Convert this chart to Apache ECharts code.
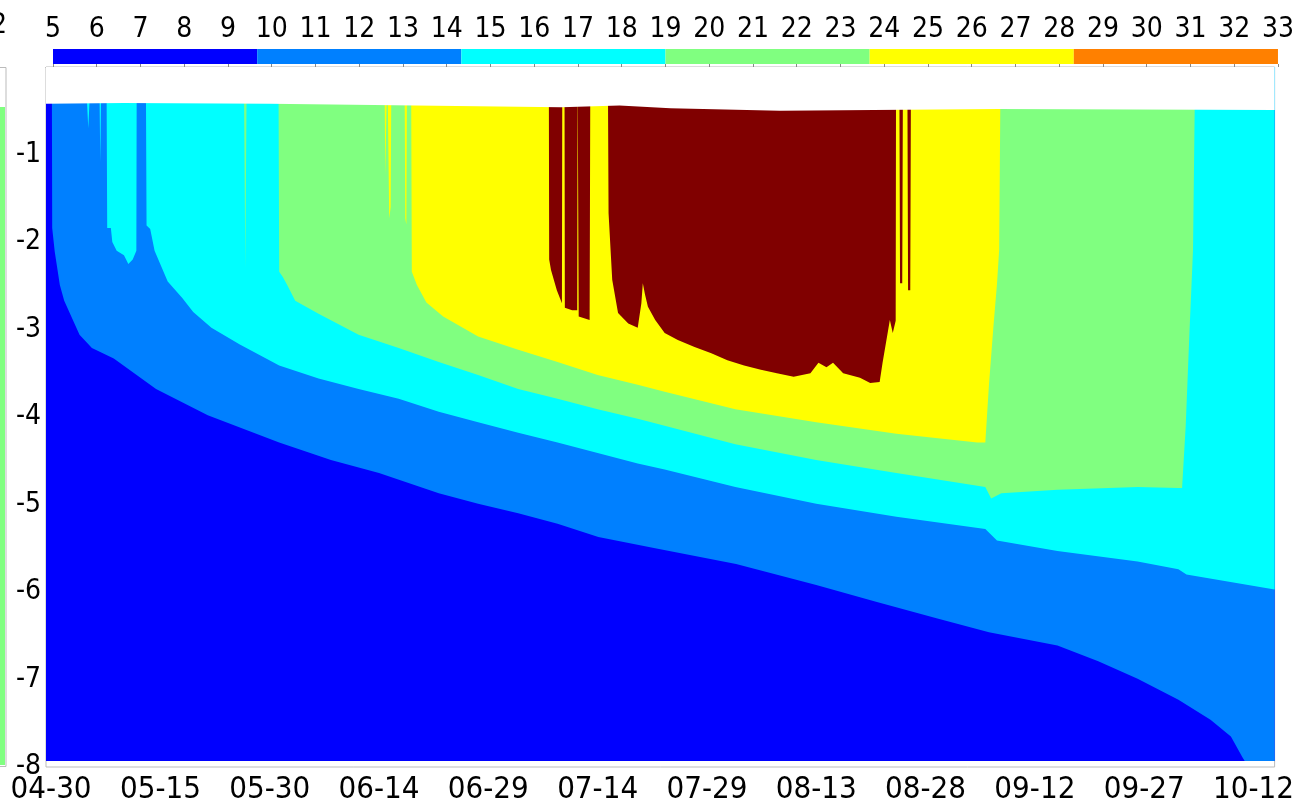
<!DOCTYPE html>
<html>
<head>
<meta charset="utf-8">
<title>温度剖面</title>
<script src="https://cdn.jsdelivr.net/npm/echarts@6/dist/echarts.min.js"></script>
<style>
  html, body { margin: 0; padding: 0; background: #fff; }
  #chart_temp { width: 1297px; height: 810px; }
</style>
</head>
<body>
<div id="chart_temp"></div>
<script>
// x = days since 04-30, y = depth
const xTickDays = [0, 15, 30, 45, 60, 75, 90, 105, 120, 135, 150, 165];
const xTickLabels = ["04-30", "05-15", "05-30", "06-14", "06-29", "07-14", "07-29", "08-13", "08-28", "09-12", "09-27", "10-12"];
const yTickValues = [-8, -7, -6, -5, -4, -3, -2, -1];

// colour bar classes (temperature)
const colorbarEdges = [5, 9.667, 14.333, 19, 23.667, 28.333, 33];

// top of the measured column
const surfaceLine = [[-0.7, -0.42], [10, -0.41], [30, -0.42], [50, -0.44], [70, -0.46], [78, -0.44], [85, -0.47], [100, -0.5], [130, -0.48], [167.9, -0.49]];
// deepest sensor
const bottomLine = [[-0.7, -7.93], [167.9, -7.93]];

// depth of each isotherm band (0 = band absent)
const edgeBand2 = [[-0.7, 0], [0.1, 0], [0.15, -1.84], [0.5, -2.11], [1.2, -2.49], [1.8, -2.67], [3.9, -3.06], [5.6, -3.21], [8.6, -3.33], [14.4, -3.68], [21.5, -3.98], [31.3, -4.29], [38.4, -4.49], [45, -4.64], [53.2, -4.87], [58.6, -4.99], [64.1, -5.1], [69.5, -5.22], [75.1, -5.37], [82.9, -5.5], [94, -5.68], [105, -5.92], [113.2, -6.11], [121.5, -6.3], [128.7, -6.46], [138.1, -6.61], [143.7, -6.79], [149.1, -6.99], [154.7, -7.23], [159.1, -7.46], [161.9, -7.65], [163.5, -7.89], [163.8, -7.93], [167.9, -7.93]];
const edgeBand3 = [[-0.7, 0], [4.7, 0], [5.1, -0.7], [5.5, 0], [6.6, 0], [6.75, -1.09], [6.9, 0], [7.6, 0], [7.7, -1.84], [8.2, -1.84], [8.4, -2.0], [9, -2.1], [10, -2.15], [10.6, -2.25], [11.2, -2.2], [11.7, -2.1], [11.75, 0], [13, 0], [13.1, -1.81], [13.6, -1.85], [14.2, -2.1], [16, -2.45], [18, -2.64], [19.5, -2.8], [22, -2.98], [25.9, -3.17], [31.3, -3.41], [36.7, -3.56], [42.2, -3.68], [47.7, -3.79], [53.2, -3.94], [58.6, -4.06], [64.1, -4.18], [69.5, -4.29], [75, -4.41], [80.5, -4.53], [84.2, -4.6], [93.9, -4.8], [105, -4.99], [116, -5.14], [128.2, -5.28], [129.8, -5.41], [138.1, -5.53], [149.1, -5.65], [154.7, -5.74], [155.8, -5.8], [167.9, -5.97]];
const edgeBand4 = [[-0.7, 0], [26.45, 0], [26.65, -2.3], [26.85, 0], [31.2, 0], [31.3, -2.34], [31.8, -2.4], [32.4, -2.49], [33.5, -2.67], [36.7, -2.82], [42.2, -3.06], [47.7, -3.21], [53.2, -3.37], [58.6, -3.52], [64.1, -3.68], [69.5, -3.79], [75, -3.91], [80.5, -4.02], [84.2, -4.1], [93.9, -4.31], [105, -4.49], [116, -4.64], [128.2, -4.8], [129, -4.93], [130.4, -4.87], [138.1, -4.83], [149.1, -4.8], [154.7, -4.81], [155.2, -4.81], [155.7, -4.1], [156.2, -3.06], [156.7, -2.09], [157, 0], [167.9, 0]];
const edgeBand5 = [[-0.7, 0], [45.75, 0], [45.85, -1.23], [46.05, -1.23], [46.15, 0], [46.3, 0], [46.4, -1.73], [46.6, -1.6], [46.7, 0], [48.5, 0], [48.6, -1.73], [48.75, -1.8], [48.85, 0], [49.4, 0], [49.5, -2.34], [50.2, -2.49], [51.5, -2.69], [53.8, -2.85], [58.6, -3.08], [64.1, -3.23], [69.5, -3.37], [75, -3.52], [80.5, -3.63], [84.2, -3.71], [93.9, -3.91], [105, -4.06], [116, -4.19], [127.1, -4.29], [128.2, -4.29], [128.7, -3.63], [129.3, -2.98], [129.8, -2.48], [130.1, -2.09], [130.3, 0], [167.9, 0]];
const edgeBand6 = [[-0.7, 0], [68.3, 0], [68.35, -2.2], [68.6, -2.32], [69.4, -2.55], [70.1, -2.7], [70.15, 0], [70.45, 0], [70.5, -2.75], [71.5, -2.78], [72.2, -2.78], [72.25, 0], [72.35, 0], [72.4, -2.85], [73.9, -2.89], [74, 0], [76.4, 0], [76.5, -1.67], [77, -2.43], [77.8, -2.81], [79.2, -2.93], [80.5, -2.98], [81, -2.7], [81.2, -2.47], [81.5, -2.6], [81.9, -2.74], [82.9, -2.89], [84.2, -3.04], [86, -3.12], [88.3, -3.2], [90.6, -3.27], [92.8, -3.35], [95.1, -3.41], [97.4, -3.46], [99.6, -3.5], [101.9, -3.54], [104.2, -3.5], [105.3, -3.38], [106.4, -3.43], [107.3, -3.38], [108.7, -3.5], [111, -3.55], [112.4, -3.61], [113.7, -3.6], [114.1, -3.38], [115.1, -2.89], [115.5, -3.04], [115.9, -2.9], [115.95, 0], [116.4, 0], [116.5, -2.47], [116.8, -2.47], [116.9, 0], [117.5, 0], [117.6, -2.55], [117.9, -2.55], [118, 0], [167.9, 0]];

const FONT = "'Liberation Sans Narrow', 'DejaVu Sans Condensed', 'Liberation Sans', sans-serif";
const colorbarPalette = ["#0000ff", "#0080ff", "#00ffff", "#80ff80", "#ffff00", "#ff8000"];

let myChart = echarts.init(document.getElementById("chart_temp"));

// painted from the deepest band up, each area filled to the top of the axis
let layers = [
  { line: bottomLine, color: "#0000ff" },
  { line: edgeBand2, color: "#0080ff" },
  { line: edgeBand3, color: "#00ffff" },
  { line: edgeBand4, color: "#80ff80" },
  { line: edgeBand5, color: "#ffff00" },
  { line: edgeBand6, color: "#800000" },
  { line: surfaceLine, color: "#ffffff" },
];

let bandSeries = layers.map((l) => ({
  type: "line",
  xAxisIndex: 0,
  yAxisIndex: 0,
  data: l.line,
  symbol: "none",
  silent: true,
  lineStyle: { width: 0, opacity: 0 },
  areaStyle: { origin: "end", color: l.color, opacity: 1 },
}));

let colorbarSeries = {
  type: "custom",
  xAxisIndex: 1,
  yAxisIndex: 1,
  silent: true,
  data: colorbarEdges.slice(0, -1).map((lo, i) => [lo, colorbarEdges[i + 1], i]),
  renderItem: function (params, api) {
    let p0 = api.coord([api.value(0), 1]);
    let p1 = api.coord([api.value(1), 0]);
    return {
      type: "rect",
      shape: { x: p0[0], y: p0[1], width: p1[0] - p0[0], height: p1[1] - p0[1] },
      style: { fill: colorbarPalette[api.value(2)] },
    };
  },
};

let option = {
  animation: false,
  backgroundColor: "#ffffff",
  grid: [
    { left: 46, right: 11, top: 67, bottom: 43, show: true, borderColor: "#bbbbbb", borderWidth: 1, backgroundColor: "#ffffff" },
    { left: 53, width: 1227, top: 49, height: 15 },
  ],
  xAxis: [
    {
      type: "value",
      gridIndex: 0,
      min: -0.7,
      max: 167.9,
      splitLine: { show: false },
      axisLine: { show: true, lineStyle: { color: "#999999" } },
      axisTick: { show: true, customValues: xTickDays, length: 4, lineStyle: { color: "#999999" } },
      axisLabel: {
        customValues: xTickDays,
        formatter: (v) => xTickLabels[xTickDays.indexOf(v)],
        color: "#000",
        fontSize: 31,
        fontFamily: FONT,
        margin: 7,
      },
    },
    {
      type: "value",
      gridIndex: 1,
      position: "top",
      min: 5,
      max: 33,
      interval: 1,
      z: 10,
      splitLine: { show: false },
      axisLine: { show: false },
      axisTick: { show: true, inside: true, length: 3, lineStyle: { color: "#888888" } },
      axisLabel: { color: "#000", fontSize: 28, fontFamily: FONT, margin: 5 },
    },
  ],
  yAxis: [
    {
      type: "value",
      gridIndex: 0,
      min: -8,
      max: 0,
      splitLine: { show: false },
      axisLine: { show: false },
      axisTick: { show: false },
      axisLabel: { customValues: yTickValues, color: "#000", fontSize: 28, fontFamily: FONT, margin: 5 },
    },
    { type: "value", gridIndex: 1, min: 0, max: 1, show: false },
  ],
  graphic: [
    // edge of the neighbouring panel, cut by the crop
    { type: "rect", silent: true, shape: { x: 0, y: 107, width: 5, height: 658 }, style: { fill: "#80ff80" } },
    { type: "rect", silent: true, shape: { x: -3, y: 67.5, width: 9, height: 699 }, style: { fill: "none", stroke: "#bbbbbb", lineWidth: 1 } },
    { type: "text", silent: true, x: 7, y: 26, style: { text: "2", fontSize: 28, fontFamily: FONT, fill: "#000", align: "right", verticalAlign: "middle" } },
  ],
  series: bandSeries.concat([colorbarSeries]),
};

myChart.setOption(option, true);

window.addEventListener("resize", () => {
  myChart.resize();
});
</script>
</body>
</html>
